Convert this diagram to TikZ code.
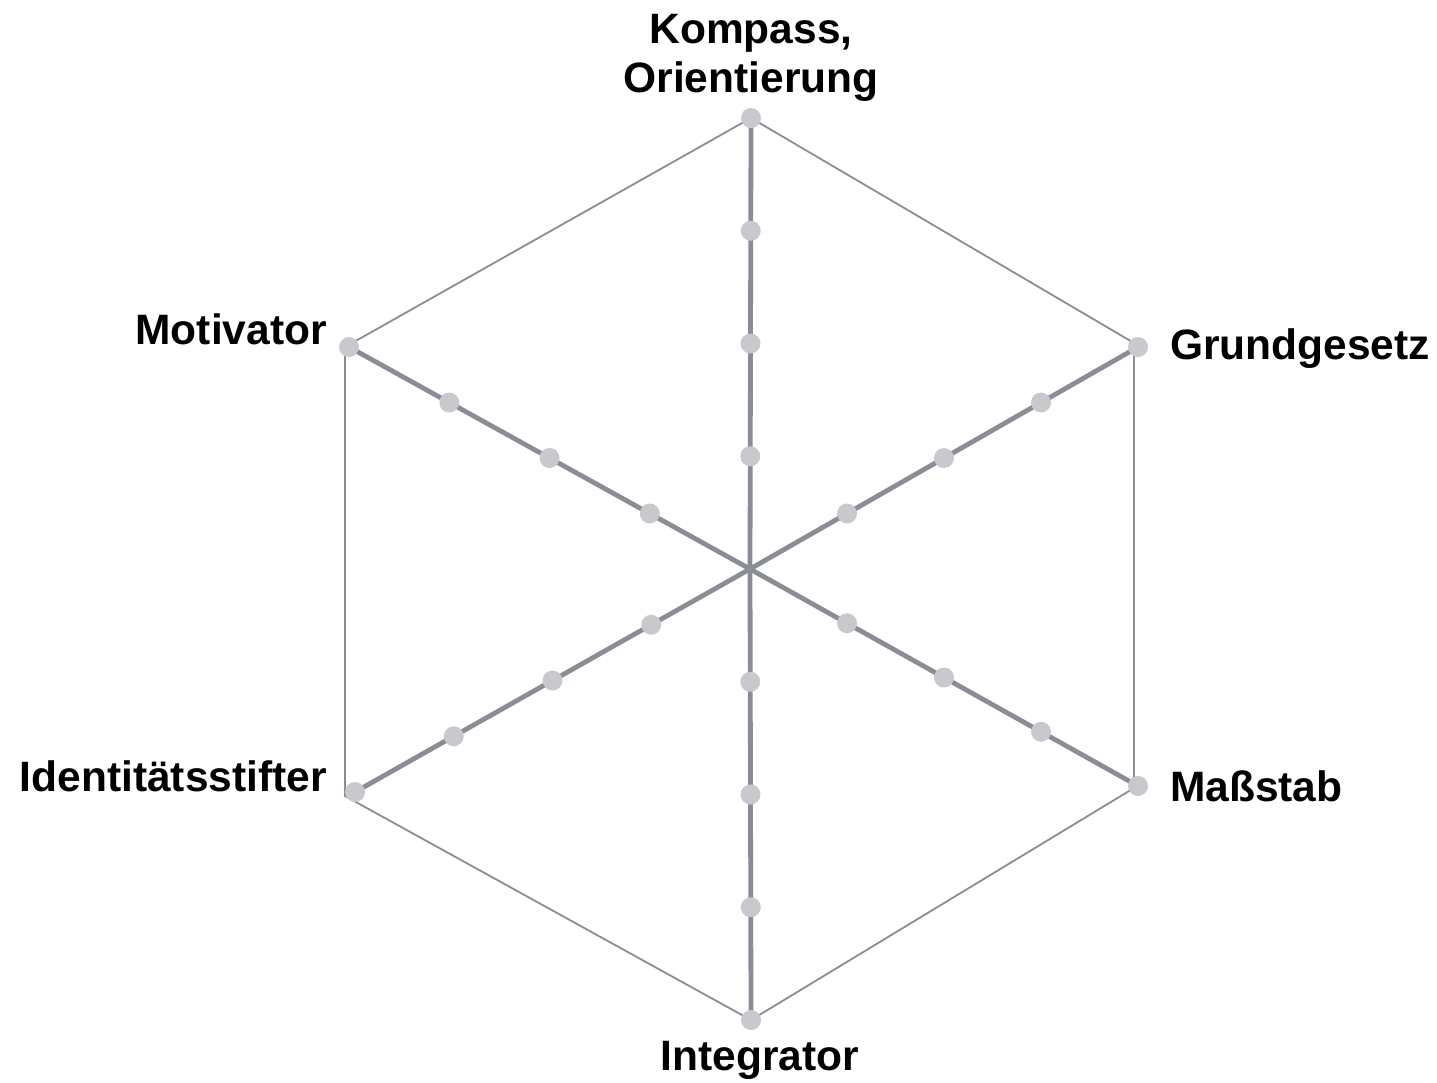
\documentclass[tikz,border=0pt]{standalone}
\usepackage{fontspec}
\setmainfont{Liberation Sans}
\usetikzlibrary{calc}
\begin{document}
\begin{tikzpicture}[x=1pt,y=-1pt,
  axisline/.style={draw=linegray,line width=4.8pt},
  rimline/.style={draw=linegray,line width=1.8pt},
  dot/.style={circle,fill=dotgray,inner sep=0pt,minimum size=20pt},
  lbl/.style={font=\bfseries\fontsize{42.5}{49}\selectfont,text=black,inner sep=0pt,align=center}]
\definecolor{linegray}{HTML}{8A8C96}
\definecolor{dotgray}{HTML}{C8C8CD}
\useasboundingbox (0,0) rectangle (1437,1082);
% centre and axis end points
\coordinate (c) at (750,569);
\coordinate (eN) at (751,118);
\coordinate (eNE) at (1138,347);
\coordinate (eSE) at (1138,786);
\coordinate (eS) at (751,1020);
\coordinate (eSW) at (355,792);
\coordinate (eNW) at (349,347);
% outer hexagon
\coordinate (hN) at (751,118);
\coordinate (hNE) at (1134,343);
\coordinate (hSE) at (1134,788);
\coordinate (hS) at (751,1020);
\coordinate (hSW) at (345,796);
\coordinate (hNW) at (345,347);
\draw[rimline] (hN) -- (hNE) -- (hSE) -- (hS) -- (hSW) -- (hNW) -- cycle;
% axes with their scale marks
\foreach \e in {eN,eNE,eSE,eS,eSW,eNW}{
  \draw[axisline] (c) -- (\e);
}
\foreach \e in {eN,eNE,eSE,eS,eSW,eNW}{
  \foreach \t in {0.25,0.5,0.75,1}{
    \node[dot] at ($(c)!\t!(\e)$) {};
  }
}
% labels
\node[lbl] (lN) at (751,58) {Kompass,\\Orientierung};
\node[lbl,anchor=west] (lNE) at (1170,349) {Grundgesetz};
\node[lbl,anchor=west] (lSE) at (1170,786) {Maßstab};
\node[lbl] (lS) at (760,1060) {Integrator};
\node[lbl,anchor=east] (lSW) at (327,776) {Identitätsstifter};
\node[lbl,anchor=east] (lNW) at (327,329) {Motivator};
\end{tikzpicture}
\end{document}
